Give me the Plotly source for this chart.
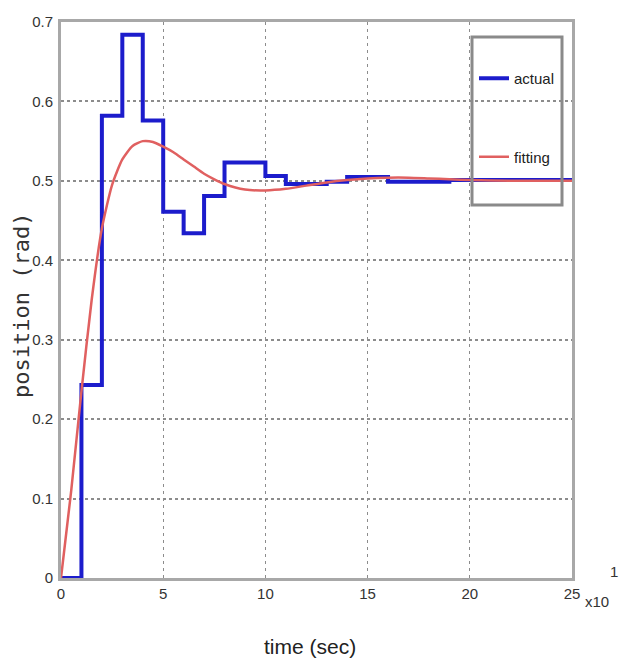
import plotly.graph_objects as go

# ---- data ----
t_actual = [0, 1, 2, 3, 4, 5, 6, 7, 8, 10, 11, 13, 14, 16, 19, 25]
y_actual = [0, 0.243, 0.582, 0.684, 0.576, 0.461, 0.434, 0.481, 0.523, 0.506,
            0.496, 0.499, 0.505, 0.499, 0.501, 0.501]

t_fit = [0, 0.5, 1, 1.5, 2, 2.5, 3, 3.5, 4, 4.5, 5, 5.5, 6, 6.5, 7, 7.5, 8,
         9, 10, 11, 12, 13, 14, 15, 16, 17, 18, 19, 20, 22, 25]
y_fit = [0, 0.11, 0.235, 0.35, 0.44, 0.495, 0.527, 0.544, 0.55, 0.549, 0.543,
         0.536, 0.527, 0.518, 0.509, 0.502, 0.496, 0.489, 0.488, 0.49, 0.494,
         0.498, 0.501, 0.503, 0.504, 0.504, 0.503, 0.502, 0.501, 0.5, 0.5]

x_ticks = [0, 5, 10, 15, 20, 25]
y_ticks = [0, 0.1, 0.2, 0.3, 0.4, 0.5, 0.6, 0.7]
y_tick_labels = ["0", "0.1", "0.2", "0.3", "0.4", "0.5", "0.6", "0.7"]

W, H = 623, 666
L, R, T, B = 61, 51, 22, 88
PW, PH = W - L - R, H - T - B


def px(x):
    return (x - L) / PW


def py(y):
    return (H - B - y) / PH


sans = "Liberation Sans, Arial, sans-serif"
tick_font = dict(family=sans, size=15, color="#333333")

fig = go.Figure()
fig.add_trace(go.Scatter(
    x=t_actual, y=y_actual, mode="lines", name="actual",
    line=dict(color="#1c1ccc", width=4, shape="hv"),
    legendgroup="a"))
fig.add_trace(go.Scatter(
    x=t_fit, y=y_fit, mode="lines", name="fitting",
    line=dict(color="#e06060", width=2.5, shape="spline", smoothing=0.6),
    legendgroup="b"))

fig.update_layout(
    width=W, height=H,
    margin=dict(l=L, r=R, t=T, b=B),
    paper_bgcolor="white", plot_bgcolor="white",
    showlegend=True,
    legend=dict(
        x=px(474), y=py(62), xanchor="left", yanchor="top",
        bgcolor="rgba(0,0,0,0)", borderwidth=0,
        font=dict(family=sans, size=15, color="#222222"),
        tracegroupgap=56, itemwidth=30,
    ),
    xaxis=dict(
        range=[0, 25], tickvals=x_ticks, ticktext=[str(v) for v in x_ticks],
        showgrid=True, gridcolor="#8c8c8c", gridwidth=1.2, griddash="3px,4px",
        showline=True, linecolor="#a8a8a8", linewidth=3, mirror=True,
        zeroline=False, ticks="", tickfont=tick_font,
    ),
    yaxis=dict(
        range=[0, 0.7], tickvals=y_ticks, ticktext=y_tick_labels,
        showgrid=True, gridcolor="#8c8c8c", gridwidth=1.5, griddash="dot",
        showline=True, linecolor="#a8a8a8", linewidth=3, mirror=True,
        zeroline=False, ticks="", tickfont=tick_font, ticklabelstandoff=2,
    ),
    shapes=[
        dict(type="rect", xref="paper", yref="paper",
             x0=px(472), x1=px(562), y0=py(205), y1=py(37),
             line=dict(color="#8a8a8a", width=3), fillcolor="rgba(0,0,0,0)",
             layer="above"),
    ],
    annotations=[
        dict(text="time (sec)", xref="paper", yref="paper",
             x=px(310), y=py(646), xanchor="center", yanchor="middle",
             showarrow=False,
             font=dict(family=sans, size=21, color="#222222")),
        dict(text="position (rad)", xref="paper", yref="paper",
             x=px(22), y=py(306), xanchor="center", yanchor="middle",
             showarrow=False, textangle=-90,
             font=dict(family="DejaVu Sans Mono, monospace", size=22, color="#333333")),
        dict(text="x10", xref="paper", yref="paper",
             x=px(583), y=py(601), xanchor="left", yanchor="middle",
             showarrow=False, font=tick_font),
        dict(text="1", xref="paper", yref="paper",
             x=px(614), y=py(571), xanchor="center", yanchor="middle",
             showarrow=False, font=tick_font),
    ],
)

fig.write_html("out.html", config={"displayModeBar": False},
               post_script="document.body.style.margin='0px';")
